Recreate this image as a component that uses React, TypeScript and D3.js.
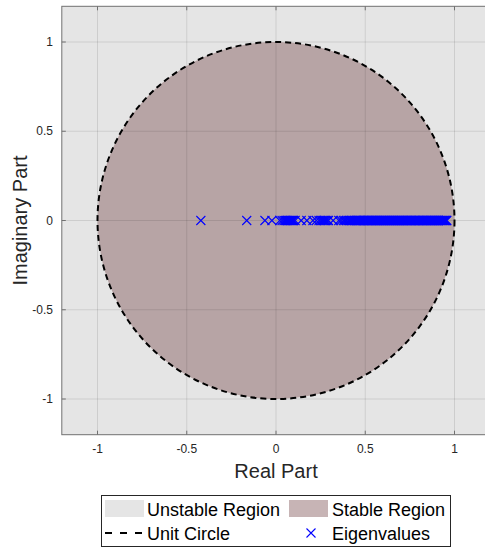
import React from "react";
import * as d3 from "d3";

const xTicks = [-1, -0.5, 0, 0.5, 1];
const yTicks = [-1, -0.5, 0, 0.5, 1];
const xTickLabels = ["-1", "-0.5", "0", "0.5", "1"];
const yTickLabels = ["-1", "-0.5", "0", "0.5", "1"];
const eigenvalues = [
  -0.421, -0.164, -0.062, -0.023, 0.021, 0.034, 0.045, 0.052, 0.058, 0.064,
  0.07, 0.075, 0.081, 0.087, 0.093, 0.099, 0.107, 0.141, 0.173, 0.207,
  0.226, 0.241, 0.252, 0.259, 0.266, 0.273, 0.279, 0.286, 0.294, 0.32,
  0.352, 0.364, 0.377, 0.386, 0.394, 0.404, 0.411, 0.418, 0.425, 0.431,
  0.438, 0.444,
  0.449, 0.453, 0.458, 0.462, 0.466, 0.471, 0.475, 0.48, 0.484, 0.489,
  0.493, 0.497, 0.502, 0.506, 0.511, 0.515, 0.519, 0.524, 0.528, 0.533,
  0.537, 0.541, 0.546, 0.55, 0.555, 0.559, 0.563, 0.568, 0.572, 0.577,
  0.581, 0.585, 0.59, 0.594, 0.599, 0.603, 0.607, 0.612, 0.616, 0.621,
  0.625, 0.629, 0.634, 0.638, 0.643, 0.647, 0.651, 0.656, 0.66, 0.665,
  0.669, 0.673, 0.678, 0.682, 0.687, 0.691, 0.695, 0.7, 0.704, 0.709,
  0.713, 0.717, 0.722, 0.726, 0.731, 0.735, 0.739, 0.744, 0.748, 0.753,
  0.757, 0.761, 0.766, 0.77, 0.775, 0.779, 0.783, 0.788, 0.792, 0.797,
  0.801, 0.805, 0.81, 0.814, 0.819, 0.823, 0.827, 0.832, 0.836, 0.841,
  0.845, 0.849, 0.854, 0.858, 0.863, 0.867, 0.871, 0.876, 0.88, 0.885,
  0.889, 0.893, 0.898, 0.902, 0.907, 0.911, 0.915, 0.92, 0.924, 0.929,
  0.933, 0.937, 0.942, 0.946, 0.95, 0.954, 0.957,
];
const legendLabels = ["Unstable Region", "Stable Region", "Unit Circle", "Eigenvalues"];

const W = 485;
const H = 551;
const FONT = "'Liberation Sans', Arial, Helvetica, sans-serif";
const STABLE = "rgb(116,68,71)";
const STABLE_OP = 0.4;
const UNSTABLE = "#e5e5e5";

export default function App() {
  const x = d3.scaleLinear().domain([-1.2, 1.2]).range([61.8, 490.2]);
  const y = d3.scaleLinear().domain([-1.2, 1.2]).range([434.7, 6.3]);
  const r = x(1) - x(0);
  const x0 = x(-1.2), x1 = x(1.2), y0 = y(1.2), y1 = y(-1.2);
  const circlePath = d3.path();
  circlePath.arc(x(0), y(0), r, 0, Math.PI * 2);
  const axisColor = "#707070";
  const m = 4.5;
  const cross = (cx: number, cy: number, k: number) => (
    <path key={k} d={`M${cx - m},${cy - m}L${cx + m},${cy + m}M${cx - m},${cy + m}L${cx + m},${cy - m}`}
      stroke="#0000ff" strokeWidth={1.1} fill="none" />
  );
  return (
    <svg width={W} height={H} style={{ position: "absolute", left: 0, top: 0, background: "#fff" }}
      fontFamily={FONT}>
      <defs>
        <clipPath id="plotclip"><rect x={x0} y={y0} width={x1 - x0} height={y1 - y0} /></clipPath>
      </defs>
      <g clipPath="url(#plotclip)">
        <rect x={x0} y={y0} width={x1 - x0} height={y1 - y0} fill={UNSTABLE} />
        <path d={circlePath.toString()} fill={STABLE} fillOpacity={STABLE_OP} />
        {xTicks.map((t, i) => (
          <line key={"gx" + i} x1={x(t)} x2={x(t)} y1={y0} y2={y1} stroke="#000" strokeOpacity={0.1} />
        ))}
        {yTicks.map((t, i) => (
          <line key={"gy" + i} x1={x0} x2={x1} y1={y(t)} y2={y(t)} stroke="#000" strokeOpacity={0.1} />
        ))}
        <path d={circlePath.toString()} fill="none" stroke="#000" strokeWidth={2} strokeDasharray="6,4" />
        {eigenvalues.map((v, i) => cross(x(v), y(0), i))}
      </g>
      <rect x={x0} y={y0} width={x1 - x0} height={y1 - y0} fill="none" stroke={axisColor} strokeWidth={1} />
      {xTicks.map((t, i) => (
        <g key={"tx" + i}>
          <line x1={x(t)} x2={x(t)} y1={y1} y2={y1 - 4} stroke={axisColor} />
          <line x1={x(t)} x2={x(t)} y1={y0} y2={y0 + 4} stroke={axisColor} />
          <text x={x(t)} y={453} textAnchor="middle" fontSize={12} fill="#262626">{xTickLabels[i]}</text>
        </g>
      ))}
      {yTicks.map((t, i) => (
        <g key={"ty" + i}>
          <line x1={x0} x2={x0 + 4} y1={y(t)} y2={y(t)} stroke={axisColor} />
          <text x={53} y={y(t) + 4} textAnchor="end" fontSize={12} fill="#262626">{yTickLabels[i]}</text>
        </g>
      ))}
      <text x={276} y={478} textAnchor="middle" fontSize={20} fill="#262626">Real Part</text>
      <text transform={`translate(27,${y(0)}) rotate(-90)`} textAnchor="middle" fontSize={20} fill="#262626">Imaginary Part</text>
      <rect x={101.5} y={495.5} width={349} height={51} fill="#fff" stroke="#262626" strokeWidth={1} />
      <rect x={105} y={500} width={39} height={17} fill={UNSTABLE} />
      <text x={147} y={516} fontSize={18} fill="#000">{legendLabels[0]}</text>
      <rect x={289} y={500} width={39} height={17} fill={STABLE} fillOpacity={STABLE_OP} />
      <text x={332} y={516} fontSize={18} fill="#000">{legendLabels[1]}</text>
      <line x1={105} x2={146} y1={533} y2={533} stroke="#000" strokeWidth={2} strokeDasharray="7,8" />
      <text x={147} y={540} fontSize={18} fill="#000">{legendLabels[2]}</text>
      {cross(311, 533, -1)}
      <text x={332} y={540} fontSize={18} fill="#000">{legendLabels[3]}</text>
    </svg>
  );
}
